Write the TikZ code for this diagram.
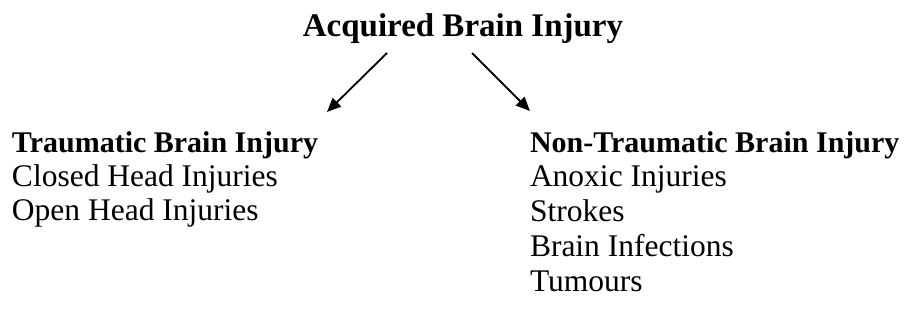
\documentclass[tikz,border=0pt]{standalone}
\usepackage{fontspec}
\setmainfont{Liberation Serif}
\usetikzlibrary{arrows.meta}
\begin{document}
\begin{tikzpicture}[x=1pt,y=-1pt,
  every node/.style={inner sep=0pt,outer sep=0pt},
  ttl/.style={anchor=base,font=\fontsize{33}{36}\selectfont\bfseries},
  head/.style={anchor=base west,font=\fontsize{30}{34}\selectfont\bfseries},
  item/.style={anchor=base west,font=\fontsize{31.5}{34}\selectfont},
  arr/.style={line width=1.8pt,-{Triangle[length=14pt,width=12pt]}}]
\useasboundingbox (0,0) rectangle (913,320);
\node[ttl] (title) at (463,37) {Acquired Brain Injury};
\node[head] (tbi) at (12,153) {Traumatic Brain Injury};
\node[item] (t1) at (12,187) {Closed Head Injuries};
\node[item] (t2) at (12,221) {Open Head Injuries};
\node[head] (ntbi) at (530,153) {Non-Traumatic Brain Injury};
\node[item] (n1) at (530,187) {Anoxic Injuries};
\node[item] (n2) at (530,222) {Strokes};
\node[item] (n3) at (530,257) {Brain Infections};
\node[item] (n4) at (530,292) {Tumours};
\coordinate (ls) at (387,53);
\coordinate (le) at (327,112);
\coordinate (rs) at (472,53);
\coordinate (re) at (530,111);
\draw[arr] (ls) -- (le);
\draw[arr] (rs) -- (re);
\end{tikzpicture}
\end{document}
